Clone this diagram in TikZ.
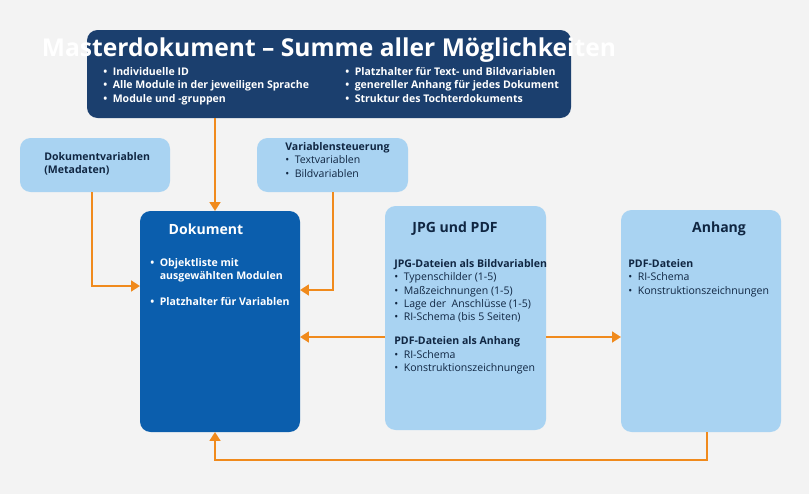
\documentclass[tikz,border=0pt]{standalone}
\usepackage{fontspec}
\setmainfont{Open Sans}
\usetikzlibrary{positioning,arrows.meta}
\definecolor{darkbox}{HTML}{1B3F6E}
\definecolor{midbox}{HTML}{0B5EAD}
\definecolor{lightbox}{HTML}{A9D3F2}
\definecolor{arrowc}{HTML}{F08A1C}
\definecolor{bgc}{HTML}{F3F3F3}
\begin{document}
\begin{tikzpicture}[x=0.02cm,y=-0.02cm,
  box/.style={rounded corners=6pt, inner sep=0pt},
  txt/.style={anchor=north west, font=\fontsize{6}{7.6}\selectfont, align=left, inner sep=0pt},
  conn/.style={arrowc, line width=1.4pt, -{Triangle[length=5pt,width=6pt]}}]
  \fill[bgc] (0,0) rectangle (809,494);
  \useasboundingbox (0,0) rectangle (809,494);
  % boxes
  \fill[darkbox, box] (87,30) rectangle (571,118);
  \fill[lightbox, box] (20,138) rectangle (170,192);
  \fill[lightbox, box] (257,138) rectangle (408,192);
  \fill[midbox, box] (140,211) rectangle (300,432);
  \fill[lightbox, box] (385,206) rectangle (546,430);
  \fill[lightbox, box] (621,210) rectangle (781,432);
  \coordinate (mb) at (215,118);
  \coordinate (dt) at (215,211);
  \coordinate (dvb) at (92,192);
  \coordinate (dl) at (140,286);
  \coordinate (vsb) at (333,192);
  \coordinate (dr) at (300,290);
  \coordinate (dr2) at (300,337);
  \coordinate (jl) at (385,337);
  \coordinate (jr) at (546,337);
  \coordinate (al) at (621,337);
  \coordinate (ab) at (707,432);
  \coordinate (db) at (215,432);
  % texts
  \node[white, font=\bfseries\fontsize{14}{16}\selectfont] (master) at (329,50) {Masterdokument – Summe aller Möglichkeiten};
  \node[txt, white, font=\bfseries\fontsize{6}{7.6}\selectfont] (ml) at (103,67) {•\ \ Individuelle ID\\•\ \ Alle Module in der jeweiligen Sprache\\•\ \ Module und -gruppen};
  \node[txt, white, font=\bfseries\fontsize{6}{7.6}\selectfont] (mr) at (345,67) {•\ \ Platzhalter für Text- und Bildvariablen\\•\ \ genereller Anhang für jedes Dokument\\•\ \ Struktur des Tochterdokuments};
  \node[txt, font=\bfseries\fontsize{6}{7.6}\selectfont, text=darkbox!60!black] (dv) at (44,152) {Dokumentvariablen\\(Metadaten)};
  \node[txt, text=darkbox!60!black] (vs) at (285,142) {\textbf{Variablensteuerung}\\•\ \ Textvariablen\\•\ \ Bildvariablen};
  \node[white, font=\bfseries\fontsize{8}{9}\selectfont] (dok) at (206,229) {Dokument};
  \node[txt, white, font=\bfseries\fontsize{6}{7.6}\selectfont] (dokt) at (150,258) {•\ \ Objektliste mit\\\phantom{•\ \ }ausgewählten Modulen\\[7pt]•\ \ Platzhalter für Variablen};
  \node[font=\bfseries\fontsize{8}{9}\selectfont, text=darkbox!60!black] (jpg) at (455,229) {JPG und PDF};
  \node[txt, text=darkbox!60!black] (jpgt) at (394,259) {\textbf{JPG-Dateien als Bildvariablen}\\•\ \ Typenschilder (1-5)\\•\ \ Maßzeichnungen (1-5)\\•\ \ Lage der\ \ Anschlüsse (1-5)\\•\ \ RI-Schema (bis 5 Seiten)\\[6pt]\textbf{PDF-Dateien als Anhang}\\•\ \ RI-Schema\\•\ \ Konstruktionszeichnungen};
  \node[font=\bfseries\fontsize{8}{9}\selectfont, text=darkbox!60!black] (anh) at (719,229) {Anhang};
  \node[txt, text=darkbox!60!black] (anht) at (628,259) {\textbf{PDF-Dateien}\\•\ \ RI-Schema\\•\ \ Konstruktionszeichnungen};
  % connectors
  \draw[conn] (mb) -- (dt);
  \draw[conn] (dvb) |- (dl);
  \draw[conn] (vsb) |- (dr);
  \draw[conn] (jl) -- (dr2);
  \draw[conn] (jr) -- (al);
  \draw[conn] (ab) -- ++(0,28) -| (db);
\end{tikzpicture}
\end{document}
